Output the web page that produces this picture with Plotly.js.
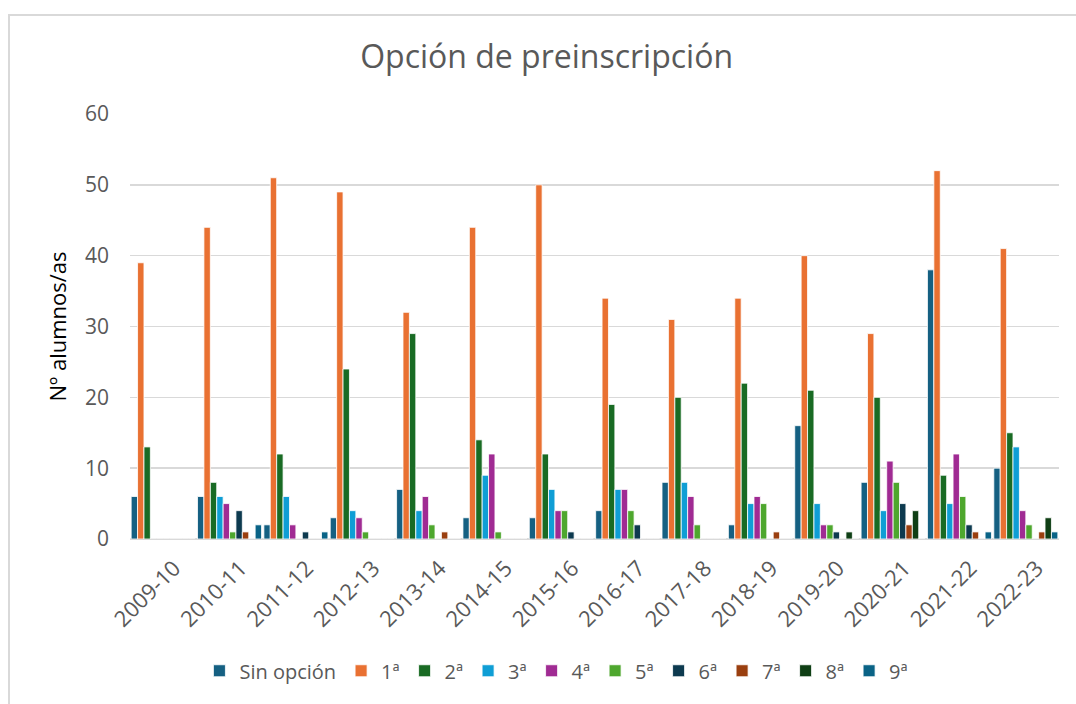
<!DOCTYPE html>
<html>
<head>
<meta charset="utf-8">
<script src="https://cdn.plot.ly/plotly-3.0.1.min.js"></script>
<style>
html,body{margin:0;padding:0;background:#fff;}
#chart{position:absolute;left:0;top:0;width:1076px;height:704px;}
#frame{position:absolute;left:8px;top:14px;width:1080px;height:700px;border-top:2px solid #d9d9d9;border-left:2px solid #d9d9d9;pointer-events:none;}
</style>
</head>
<body>
<div id="chart"></div>
<div id="frame"></div>
<script>
const categories = ["2009-10","2010-11","2011-12","2012-13","2013-14","2014-15","2015-16","2016-17","2017-18","2018-19","2019-20","2020-21","2021-22","2022-23"];
const seriesNames = ["Sin opción","1ª","2ª","3ª","4ª","5ª","6ª","7ª","8ª","9ª"];
const sinOpcion = [6,6,2,3,7,3,3,4,8,2,16,8,38,10];
const op1 = [39,44,51,49,32,44,50,34,31,34,40,29,52,41];
const op2 = [13,8,12,24,29,14,12,19,20,22,21,20,9,15];
const op3 = [0,6,6,4,4,9,7,7,8,5,5,4,5,13];
const op4 = [0,5,2,3,6,12,4,7,6,6,2,11,12,4];
const op5 = [0,1,0,1,2,1,4,4,2,5,2,8,6,2];
const op6 = [0,4,1,0,0,0,1,2,0,0,1,5,2,0];
const op7 = [0,1,0,0,1,0,0,0,0,1,0,2,1,1];
const op8 = [0,0,0,0,0,0,0,0,0,0,1,4,0,3];
const op9 = [0,2,1,0,0,0,0,0,0,0,0,0,1,1];
const colors = ["#156082","#E97132","#196B24","#0F9ED5","#A02B93","#4EA72E","#0D3A4F","#9A3F0F","#0F3F15","#0A6386"];
const allSeries = [sinOpcion,op1,op2,op3,op4,op5,op6,op7,op8,op9];

const FONT = "Open Sans, Noto Sans, sans-serif";
const traces = allSeries.map((vals,i)=>({
  type:"bar", name:seriesNames[i], x:categories, y:vals,
  marker:{color:colors[i], line:{color:"#ffffff", width:0.8}},
  hoverinfo:"x+y+name"
}));

const layout = {
  width:1076, height:704,
  margin:{l:130, r:17, t:114, b:165},
  paper_bgcolor:"#ffffff", plot_bgcolor:"#ffffff",
  barmode:"group", bargap:0.035, bargroupgap:0,
  font:{family:FONT, color:"#595959"},
  title:{text:"Opción de preinscripción", font:{family:FONT, size:32, color:"#595959"},
         xref:"container", yref:"container", x:0.508, xanchor:"center", y:0.919, yanchor:"middle"},
  xaxis:{type:"category", tickangle:-45, tickfont:{size:22, color:"#595959"},
         showgrid:false, showline:false, zeroline:false, ticks:"", ticklabelstandoff:11, ticklabelshift:11},
  yaxis:{range:[0,60], dtick:10, tick0:0, tickfont:{size:21, color:"#595959"},
         gridcolor:"#d9d9d9", gridwidth:1.5, zeroline:true, zerolinecolor:"#d9d9d9", zerolinewidth:2,
         showline:false, ticks:"", ticklabelstandoff:20,
         title:{text:"Nº alumnos/as", font:{size:22, color:"#000000"}, standoff:12}},
  legend:{orientation:"h", x:0.459, xanchor:"center", y:-0.31, yanchor:"middle",
          font:{size:20, color:"#595959"}, itemwidth:30, traceorder:"normal", tracegroupgap:0},
  showlegend:true
};
Plotly.newPlot("chart", traces, layout, {displayModeBar:false, staticPlot:true});
</script>
</body>
</html>
